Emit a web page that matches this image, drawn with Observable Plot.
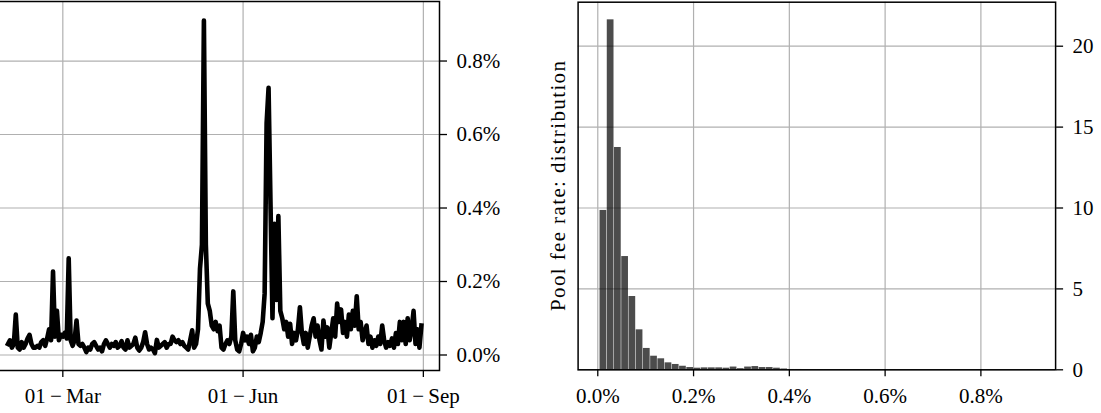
<!DOCTYPE html>
<html>
<head>
<meta charset="utf-8">
<script src="https://cdn.jsdelivr.net/npm/d3@7"></script>
<script src="https://cdn.jsdelivr.net/npm/@observablehq/plot@0.6"></script>
<style>
  html, body { margin: 0; padding: 0; background: white; }
  #wrap { position: relative; width: 1101px; height: 413px; overflow: hidden; background: white; }
  #wrap svg { position: absolute; top: 0; }
</style>
</head>
<body>
<div id="wrap"></div>
<script>
// ---- Left panel: daily pool fee rate (%), 2022 ----
const feb = [0.03,0.04,0.02,0.03,0.11,0.02,0.015,0.035,0.02,0.03,0.045,0.055,0.03,0.02,0.02,0.025,0.02,0.035,0.04,0.025,0.045,0.07,0.04,0.227,0.05,0.12,0.04,0.055];
const mar = [0.05,0.06,0.045,0.263,0.04,0.025,0.04,0.094,0.03,0.025,0.03,0.02,0.008,0.02,0.015,0.03,0.035,0.025,0.015,0.02,0.01,0.03,0.04,0.03,0.02,0.03,0.025,0.035,0.02,0.025,0.038];
const apr = [0.02,0.015,0.04,0.02,0.025,0.03,0.047,0.02,0.012,0.02,0.035,0.062,0.03,0.015,0.02,0.015,0.005,0.041,0.02,0.025,0.03,0.035,0.02,0.03,0.03,0.05,0.04,0.035,0.04,0.03];
const may = [0.035,0.025,0.02,0.015,0.04,0.067,0.02,0.03,0.07,0.235,0.3,0.91,0.3,0.14,0.12,0.08,0.07,0.09,0.065,0.08,0.02,0.015,0.03,0.04,0.03,0.05,0.173,0.04,0.015,0.01,0.03];
const jun = [0.06,0.04,0.05,0.03,0.055,0.01,0.02,0.05,0.035,0.06,0.09,0.167,0.63,0.727,0.41,0.1,0.357,0.15,0.378,0.12,0.1,0.07,0.09,0.05,0.085,0.03,0.06,0.04,0.07,0.13];
const jul = [0.06,0.03,0.06,0.02,0.05,0.08,0.1,0.05,0.08,0.04,0.015,0.094,0.05,0.075,0.02,0.06,0.1,0.05,0.14,0.09,0.124,0.06,0.09,0.05,0.11,0.07,0.12,0.08,0.16,0.07,0.09];
const aug = [0.04,0.06,0.08,0.03,0.05,0.02,0.04,0.025,0.05,0.03,0.08,0.04,0.02,0.035,0.025,0.045,0.02,0.06,0.03,0.09,0.04,0.09,0.03,0.1,0.04,0.07,0.12,0.03,0.07,0.02,0.08];
const months = [[1, feb], [2, mar], [3, apr], [4, may], [5, jun], [6, jul], [7, aug]];

const leftXTicks = [new Date(Date.UTC(2022, 2, 1)), new Date(Date.UTC(2022, 5, 1)), new Date(Date.UTC(2022, 8, 1))];
const leftXTickLabels = ["01\u2009\u2212\u2009Mar", "01\u2009\u2212\u2009Jun", "01\u2009\u2212\u2009Sep"];
const pctTicks = [0, 0.2, 0.4, 0.6, 0.8];

// ---- Right panel: histogram (density) of fee rate (%) ----
const binStart = 0.0042;
const binWidth = 0.0151;
const density = [9.85,21.63,13.74,7.0,4.53,2.47,1.32,0.84,0.68,0.43,0.33,0.22,0.14,0.1,0.12,0.12,0.12,0.1,0.17,0.07,0.17,0.2,0.14,0.14,0.1,0.05,0.02,0.02,0.01,0.01,0.01,0.01,0,0.01,0,0.01,0,0,0.01,0,0.01,0,0,0.01,0,0,0,0.01,0,0,0,0,0.01,0,0,0,0,0,0,0.01];
const countTicks = [0, 5, 10, 15, 20];
const yLabelRight = "Pool fee rate: distribution";

const series = [];
for (const [m, vals] of months) vals.forEach((v, i) => series.push({date: new Date(Date.UTC(2022, m, i + 1)), value: v}));
const bins = density.map((d, i) => ({x1: binStart + i * binWidth, x2: binStart + (i + 1) * binWidth, density: d}));

const fmtPct = d => d.toFixed(1) + "%";
const font = {fontFamily: "'Liberation Serif', 'Times New Roman', serif", fontSize: "21px", background: "transparent", color: "black", overflow: "visible"};
const grid = {stroke: "#b0b0b0", strokeOpacity: 1, strokeWidth: 1.2};

const left = Plot.plot({
  width: 530, height: 413,
  marginLeft: 0, marginRight: 77, marginTop: 1, marginBottom: 43,
  style: font,
  x: {type: "utc", domain: [new Date("2022-01-21T01:12:00Z"), new Date("2022-09-09T05:45:00Z")]},
  y: {domain: [-0.0422, 0.962]},
  marks: [
    Plot.gridX(leftXTicks, grid),
    Plot.gridY(pctTicks, grid),
    Plot.lineY(series, {x: "date", y: "value", stroke: "black", strokeWidth: 4.6, strokeLinejoin: "round", strokeLinecap: "square"}),
    Plot.frame({stroke: "black", strokeWidth: 1.5}),
    Plot.axisX(leftXTicks, {tickSize: 7, tickPadding: 11, strokeWidth: 1.3, fontSize: 21,
      tickFormat: d => leftXTickLabels[leftXTicks.findIndex(t => +t === +d)], label: null}),
    Plot.axisY(pctTicks, {anchor: "right", tickSize: 7, tickPadding: 10, strokeWidth: 1.3, fontSize: 21, tickFormat: fmtPct, label: null})
  ]
});

const right = Plot.plot({
  width: 561, height: 413,
  marginLeft: 37.6, marginRight: 45.9, marginTop: 1.7, marginBottom: 43.7,
  style: font,
  x: {domain: [-0.0411, 0.956]},
  y: {domain: [0, 22.72]},
  marks: [
    Plot.gridX(pctTicks, grid),
    Plot.gridY(countTicks, grid),
    Plot.rectY(bins, {x1: "x1", x2: "x2", y: "density", fill: "black", fillOpacity: 0.7, insetLeft: 0.25, insetRight: 0.25}),
    Plot.frame({stroke: "black", strokeWidth: 1.5}),
    Plot.axisX(pctTicks, {tickSize: 7, tickPadding: 11, strokeWidth: 1.3, fontSize: 21, tickFormat: fmtPct, label: null}),
    Plot.axisY(countTicks, {anchor: "right", tickSize: 7, tickPadding: 10, strokeWidth: 1.3, fontSize: 21, tickFormat: d => String(d), label: null}),
    Plot.text([yLabelRight], {frameAnchor: "left", textAnchor: "middle", lineAnchor: "middle", rotate: -90, dx: -20, fontSize: 21, fill: "black", text: d => d})
  ]
});

// stretch the rotated label to the reference's length
right.querySelectorAll("text").forEach(t => {
  if (t.textContent === yLabelRight) { t.setAttribute("textLength", 250); t.setAttribute("lengthAdjust", "spacing"); }
});

left.style.left = "-14px";
right.style.left = "540px";
const wrap = document.getElementById("wrap");
wrap.appendChild(left);
wrap.appendChild(right);
</script>
</body>
</html>
